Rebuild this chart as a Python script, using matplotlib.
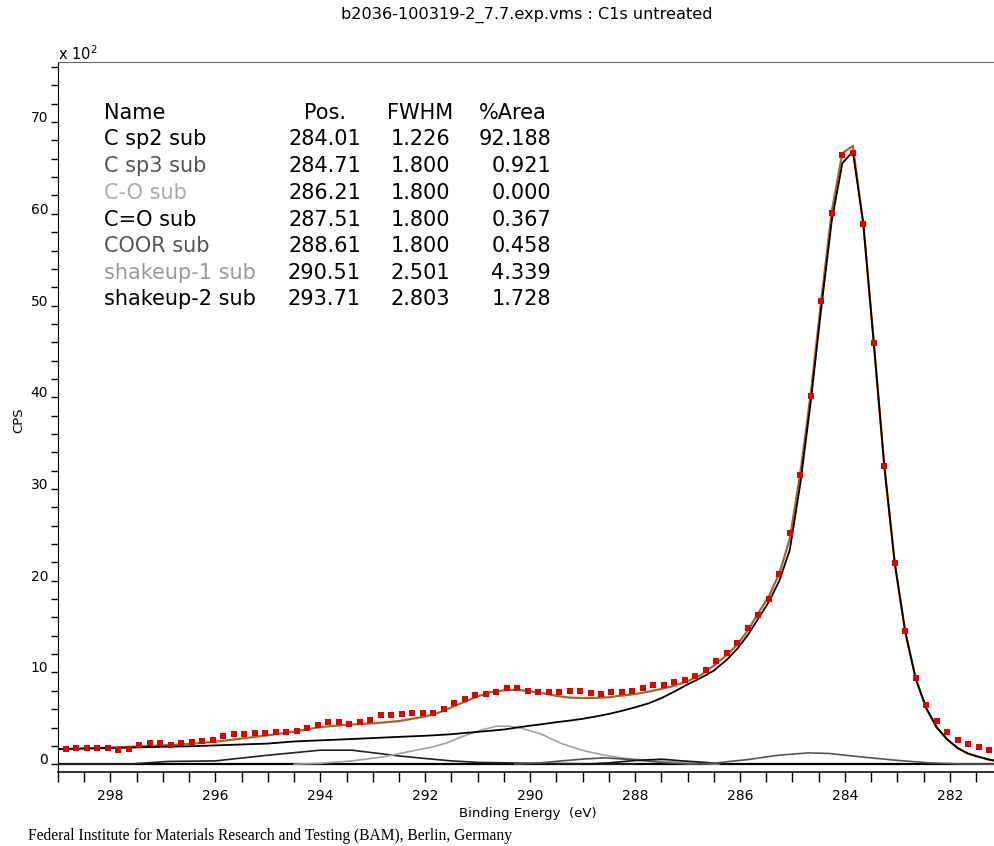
import numpy as np
import matplotlib
matplotlib.use('Agg')
import matplotlib.pyplot as plt

plt.rcParams['font.family'] = ['DejaVu Sans']

W, H = 995, 846

# measured spectrum, 0.2 eV steps from 299.05 eV down to 281.25 eV (CPS x 10^2)
E_START, E_STEP = 299.05, 0.2
cps = [
    1.64, 1.71, 1.82, 1.82, 1.82, 1.74, 1.60, 1.71, 2.04, 2.29,
    2.29, 2.14, 2.29, 2.40, 2.51, 2.69, 3.05, 3.27, 3.27, 3.37,
    3.35, 3.46, 3.49, 3.60, 4.00, 4.25, 4.55, 4.55, 4.33, 4.55,
    4.87, 5.31, 5.31, 5.42, 5.53, 5.53, 5.53, 6.00, 6.62, 7.06,
    7.49, 7.63, 7.82, 8.26, 8.26, 7.96, 7.82, 7.82, 7.82, 7.96,
    7.96, 7.71, 7.60, 7.82, 7.82, 7.96, 8.26, 8.58, 8.58, 8.92,
    9.16, 9.58, 10.23, 11.20, 12.07, 13.25, 14.80, 16.22, 17.96, 20.69,
    25.16, 31.50, 40.13, 50.49, 60.05, 66.38, 66.60, 58.86, 45.88, 32.48,
    21.89, 14.47, 9.45, 6.40, 4.66, 3.46, 2.69, 2.15, 1.85, 1.60,
]
energy = np.round(E_START - E_STEP * np.arange(len(cps)), 2)

# fit envelope and the C sp2 component (on background)
fit_e = [299.0, 298.0, 297.0, 296.5, 296.0, 295.5, 295.0, 294.5, 294.0, 293.5,
         293.0, 292.5, 292.0, 291.75, 291.5, 291.25, 291.0, 290.75, 290.5, 290.25,
         290.0, 289.75, 289.5, 289.25, 289.0, 288.75, 288.5, 288.25, 288.0, 287.75,
         287.5, 287.25, 287.0, 286.75, 286.5, 286.25, 286.05, 285.85, 285.65, 285.45,
         285.25, 285.05, 284.85, 284.65, 284.45, 284.25, 284.05, 283.85, 283.65, 283.45,
         283.25, 283.05, 282.85, 282.65, 282.45, 282.25, 282.05, 281.85, 281.65, 281.45,
         281.25, 281.05]
envelope = [1.64, 1.82, 2.05, 2.20, 2.45, 2.80, 3.15, 3.55, 4.05, 4.30,
            4.45, 4.70, 5.20, 5.60, 6.20, 6.80, 7.40, 7.85, 8.05, 8.12,
            7.95, 7.72, 7.45, 7.26, 7.22, 7.22, 7.30, 7.48, 7.65, 7.90,
            8.20, 8.55, 9.05, 9.70, 10.75, 11.90, 13.05, 14.60, 16.50, 18.30,
            20.80, 24.60, 31.80, 40.50, 50.70, 60.30, 66.60, 67.40, 58.90, 45.90,
            32.50, 21.90, 14.40, 9.30, 6.10, 4.00, 2.70, 1.75, 1.15, 0.80,
            0.50, 0.30]
c_sp2 = [1.64, 1.76, 1.90, 1.95, 2.05, 2.15, 2.25, 2.48, 2.60, 2.72,
         2.85, 2.98, 3.10, 3.18, 3.27, 3.40, 3.52, 3.65, 3.78, 4.00,
         4.20, 4.38, 4.58, 4.75, 4.95, 5.20, 5.48, 5.82, 6.20, 6.62,
         7.20, 7.92, 8.70, 9.40, 10.20, 11.40, 12.60, 14.10, 15.90, 17.70,
         20.00, 23.40, 30.60, 39.60, 49.80, 59.30, 65.50, 66.80, 58.90, 45.90,
         32.50, 21.90, 14.40, 9.30, 6.10, 4.00, 2.70, 1.75, 1.15, 0.80,
         0.50, 0.30]

# small components (background subtracted)
sp3_e = [287.0, 286.5, 286.2, 285.84, 285.27, 284.7, 284.3, 283.7, 283.05, 282.4, 281.8, 281.05]
sp3_v = [0.0, 0.1, 0.3, 0.51, 0.98, 1.23, 1.17, 0.80, 0.44, 0.15, 0.03, 0.0]
co_e = [289.0, 288.5, 288.0, 287.5, 287.1, 286.8, 286.2]
co_v = [0.0, 0.15, 0.40, 0.55, 0.36, 0.25, 0.0]
coor_e = [290.3, 289.8, 289.4, 288.95, 288.57, 288.19, 287.8, 287.4, 286.9]
coor_v = [0.0, 0.15, 0.36, 0.58, 0.69, 0.55, 0.36, 0.15, 0.0]
shk1_e = [294.5, 294.0, 293.4, 292.8, 292.2, 291.85, 291.6, 291.3, 291.0, 290.65,
          290.4, 290.15, 289.8, 289.4, 289.0, 288.6, 288.2, 287.8, 287.4, 287.0, 286.4]
shk1_v = [0.0, 0.1, 0.36, 0.8, 1.5, 1.9, 2.3, 3.0, 3.6, 4.14,
          4.14, 3.9, 3.3, 2.25, 1.5, 1.0, 0.65, 0.45, 0.3, 0.15, 0.0]
shk2_e = [299.0, 297.6, 296.9, 296.0, 295.0, 294.0, 293.4, 292.5, 292.0, 291.5,
          291.0, 290.0, 289.0, 288.0]
shk2_v = [0.0, 0.03, 0.30, 0.36, 0.98, 1.53, 1.53, 0.90, 0.62, 0.36,
          0.20, 0.10, 0.05, 0.0]

# quantification table
names = ['C sp2 sub', 'C sp3 sub', 'C-O sub', 'C=O sub', 'COOR sub', 'shakeup-1 sub', 'shakeup-2 sub']
pos = ['284.01', '284.71', '286.21', '287.51', '288.61', '290.51', '293.71']
fwhm = ['1.226', '1.800', '1.800', '1.800', '1.800', '2.501', '2.803']
area = ['92.188', '0.921', '0.000', '0.367', '0.458', '4.339', '1.728']
name_colors = ['black', '#555555', '#aaaaaa', 'black', '#555555', '#999999', 'black']


def px(x, y):
    return x / W, 1 - y / H


fig = plt.figure(figsize=(W / 100, H / 100), dpi=100)
ax = fig.add_axes([58 / W, 1 - 772 / H, (W - 58) / W, (772 - 62) / H])

ax.axhline(0, color='black', lw=1.6, zorder=1)
ax.plot(shk2_e, shk2_v, color='#222222', lw=1.2, zorder=2)
ax.plot(shk1_e, shk1_v, color='#a0a0a0', lw=1.2, zorder=2)
ax.plot(coor_e, coor_v, color='#505050', lw=1.2, zorder=2)
ax.plot(co_e, co_v, color='#111111', lw=1.2, zorder=2)
ax.plot(sp3_e, sp3_v, color='#555555', lw=1.2, zorder=2)
ax.plot(fit_e, envelope, color='#a8632a', lw=1.6, zorder=3)
ax.plot(fit_e, c_sp2, color='black', lw=1.3, zorder=4)
ax.plot(energy, cps, 's', color='#dc0000', ms=4.3, mew=0, zorder=5)

ax.set_xlim(299.0, 281.14)
ax.set_ylim(-0.85, 76.55)
ax.set_xticks(np.arange(298, 281, -2))
ax.set_xticks(np.arange(299, 281, -0.5), minor=True)
ax.set_yticks(np.arange(0, 71, 10))
ax.set_yticks(np.arange(0, 77, 2), minor=True)
ax.tick_params(axis='both', which='both', direction='out', color='black', width=1)
ax.tick_params(axis='x', which='both', length=7, pad=5, labelsize=10)
ax.tick_params(axis='y', which='both', length=5, pad=2, labelsize=10)
for lab in ax.get_yticklabels():
    lab.set_va('baseline')

ax.spines['right'].set_visible(False)
ax.spines['top'].set_color('#666666')
ax.spines['left'].set_color('black')
ax.spines['bottom'].set_color('#222222')
ax.spines['bottom'].set_linewidth(1.3)

ax.set_xlabel('Binding Energy  (eV)', fontsize=9.5)
ax.xaxis.set_label_coords((528 - 58) / (W - 58), (772 - 807) / 710)
ax.set_ylabel('CPS', fontsize=9.5)
ax.yaxis.set_label_coords((25 - 58) / (W - 58), 0.496)

fig.text(*px(527, 15), 'b2036-100319-2_7.7.exp.vms : C1s untreated',
         ha='center', va='center', fontsize=11.6)
fig.text(*px(58, 63), r'x 10$^2$', ha='left', va='bottom', fontsize=10.5)
fig.text(*px(28, 836), 'Federal Institute for Materials Research and Testing (BAM), Berlin, Germany',
         ha='left', va='center', fontsize=11.2, family='Liberation Serif')

# table of components
row_y = [113, 139, 166, 193, 220, 246, 273, 299]
fs = 15
fig.text(*px(104, row_y[0]), 'Name', ha='left', va='center', fontsize=fs)
fig.text(*px(325, row_y[0]), 'Pos.', ha='center', va='center', fontsize=fs)
fig.text(*px(420, row_y[0]), 'FWHM', ha='center', va='center', fontsize=fs)
fig.text(*px(513, row_y[0]), '%Area', ha='center', va='center', fontsize=fs)
for i, nm in enumerate(names):
    y = row_y[i + 1]
    fig.text(*px(104, y), nm, ha='left', va='center', fontsize=fs, color=name_colors[i])
    fig.text(*px(361, y), pos[i], ha='right', va='center', fontsize=fs)
    fig.text(*px(450, y), fwhm[i], ha='right', va='center', fontsize=fs)
    fig.text(*px(551, y), area[i], ha='right', va='center', fontsize=fs)

fig.savefig('out.png', dpi=100)
plt.close(fig)
